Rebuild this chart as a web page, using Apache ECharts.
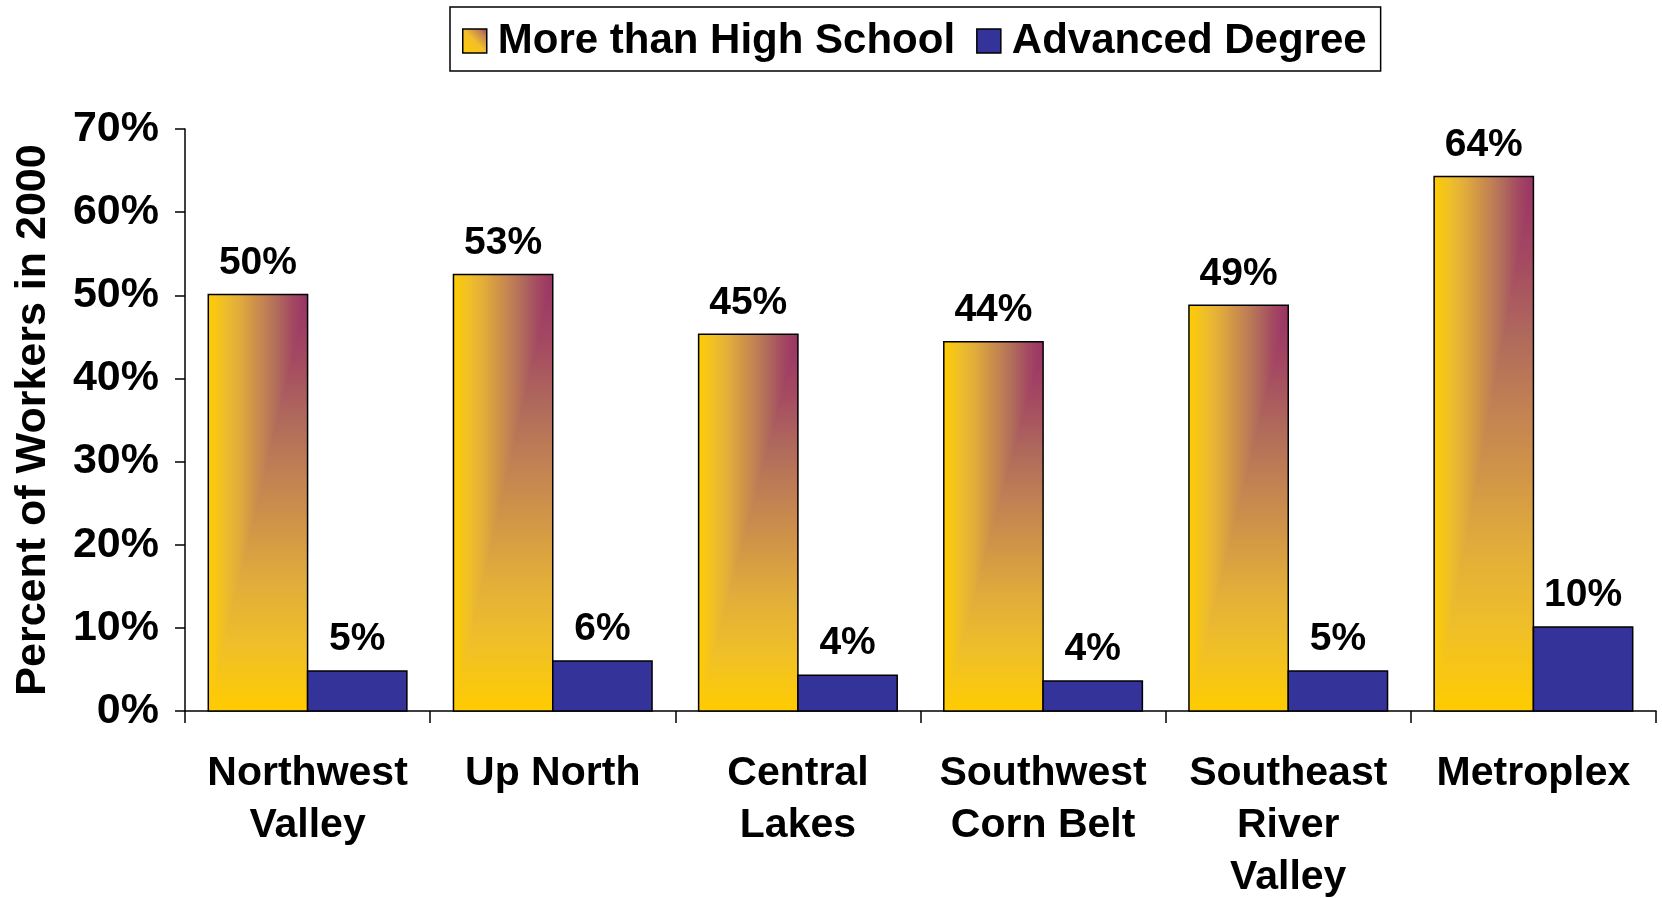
<!DOCTYPE html>
<html>
<head>
<meta charset="utf-8">
<title>Education of workers by region</title>
<script src="https://cdn.jsdelivr.net/npm/echarts@6/dist/echarts.min.js"></script>
<style>
  html, body { margin: 0; padding: 0; background: #fff; }
  #chart { width: 1662px; height: 898px; }
</style>
</head>
<body>
<div id="chart"></div>
<script>
// regions along the x axis
const regions = ['Northwest\nValley', 'Up North', 'Central\nLakes', 'Southwest\nCorn Belt', 'Southeast\nRiver\nValley', 'Metroplex'];
// percent of workers
const moreThanHighSchool = [50.1, 52.5, 45.3, 44.4, 48.8, 64.3];
const advancedDegree = [4.8, 6.0, 4.3, 3.6, 4.8, 10.1];
const seriesNames = ['More than High School', 'Advanced Degree'];

const FONT = '"Liberation Sans", Arial, sans-serif';
const BLUE = '#333399';

// "from corner" fill: d = 0 at the top right corner (plum), 1 far away (yellow)
const cornerMap = [
  [0, '#993366'], [0.15, '#A44862'], [0.3, '#B06A5C'], [0.45, '#C48452'],
  [0.55, '#D09448'], [0.7, '#E2AE3A'], [0.85, '#F0C028'], [1, '#FFCC00']
];
// across the top part the colour depends on x only, below the diagonal on y only
const horizFill = {
  type: 'linear', x: 0, y: 0, x2: 1, y2: 0,
  colorStops: cornerMap.map(([d, c]) => ({ offset: 1 - d, color: c })).reverse()
};
const vertFill = {
  type: 'linear', x: 0, y: 0, x2: 0, y2: 1,
  colorStops: cornerMap.map(([d, c]) => ({ offset: d, color: c }))
};
const iconFill = {
  type: 'linear', x: 0, y: 1, x2: 1, y2: 0,
  colorStops: [
    { offset: 0, color: '#FFCC00' }, { offset: 0.5, color: '#F2BE2A' },
    { offset: 0.8, color: '#C08052' }, { offset: 1, color: '#993366' }
  ]
};

const BAR_SHARE = 0.405; // each bar's width as a share of the category band

function barBox(api, side) {
  const base = api.coord([api.value(0), 0]);
  const top = api.coord([api.value(0), api.value(1)]);
  const w = api.size([1, 0])[0] * BAR_SHARE;
  return {
    x: side === 0 ? base[0] - w : base[0],
    y: top[1],
    width: w,
    height: base[1] - top[1]
  };
}

function pctText(box, value) {
  return {
    type: 'text',
    x: box.x + box.width / 2,
    y: box.y - 12,
    style: {
      text: Math.round(value) + '%',
      fill: '#000',
      font: 'bold 39px ' + FONT,
      align: 'center',
      verticalAlign: 'bottom'
    }
  };
}

function renderCorner(params, api) {
  const b = barBox(api, 0);
  return {
    type: 'group',
    children: [
      { type: 'rect', shape: b, style: { fill: horizFill } },
      {
        type: 'polygon',
        shape: { points: [[b.x + b.width, b.y], [b.x + b.width, b.y + b.height], [b.x, b.y + b.height]] },
        style: { fill: vertFill }
      },
      { type: 'rect', shape: b, style: { fill: null, stroke: '#000', lineWidth: 1.5 } },
      pctText(b, api.value(1))
    ]
  };
}

function renderBlue(params, api) {
  const b = barBox(api, 1);
  return {
    type: 'group',
    children: [
      { type: 'rect', shape: b, style: { fill: BLUE, stroke: '#000', lineWidth: 1.5 } },
      pctText(b, api.value(1))
    ]
  };
}

const chart = echarts.init(document.getElementById('chart'));

chart.setOption({
  backgroundColor: '#fff',
  animation: false,
  legend: {
    left: 450,
    top: 7,
    padding: [13, 14, 9, 12],
    itemWidth: 24,
    itemHeight: 24,
    itemGap: 21,
    borderColor: '#000',
    borderWidth: 1.5,
    data: [
      { name: seriesNames[0], icon: 'rect', itemStyle: { color: iconFill, borderColor: '#000', borderWidth: 1.5 } },
      { name: seriesNames[1], icon: 'rect', itemStyle: { color: BLUE, borderColor: '#000', borderWidth: 1.5 } }
    ],
    textStyle: {
      fontFamily: FONT,
      fontWeight: 'bold',
      fontSize: 42,
      color: '#000',
      padding: [0, 0, 0, 6]
    }
  },
  grid: {
    left: 185,
    right: 6,
    top: 129,
    bottom: 187,
    containLabel: false,
    outerBoundsMode: 'none'
  },
  xAxis: {
    type: 'category',
    data: regions,
    axisLine: { show: true, lineStyle: { color: '#000', width: 1.5 } },
    axisTick: { show: true, length: 12, lineStyle: { color: '#000', width: 1.5 } },
    axisLabel: {
      margin: 37,
      color: '#000',
      fontFamily: FONT,
      fontWeight: 'bold',
      fontSize: 41,
      lineHeight: 52,
      interval: 0
    }
  },
  yAxis: {
    type: 'value',
    min: 0,
    max: 70,
    interval: 10,
    name: 'Percent of Workers in 2000',
    nameLocation: 'middle',
    nameRotate: 90,
    nameGap: 130,
    nameTextStyle: {
      fontFamily: FONT,
      fontWeight: 'bold',
      fontSize: 43,
      color: '#000'
    },
    axisLine: { show: true, lineStyle: { color: '#000', width: 1.5 } },
    axisTick: { show: true, length: 10, lineStyle: { color: '#000', width: 1.5 } },
    splitLine: { show: false },
    axisLabel: {
      margin: 26,
      color: '#000',
      fontFamily: FONT,
      fontWeight: 'bold',
      fontSize: 43,
      formatter: '{value}%'
    }
  },
  series: [
    {
      name: seriesNames[0],
      type: 'custom',
      renderItem: renderCorner,
      itemStyle: { color: iconFill },
      encode: { x: 0, y: 1 },
      data: moreThanHighSchool.map((v, i) => [i, v])
    },
    {
      name: seriesNames[1],
      type: 'custom',
      renderItem: renderBlue,
      itemStyle: { color: BLUE },
      encode: { x: 0, y: 1 },
      data: advancedDegree.map((v, i) => [i, v])
    }
  ]
});

window.addEventListener('resize', () => chart.resize());
</script>
</body>
</html>
